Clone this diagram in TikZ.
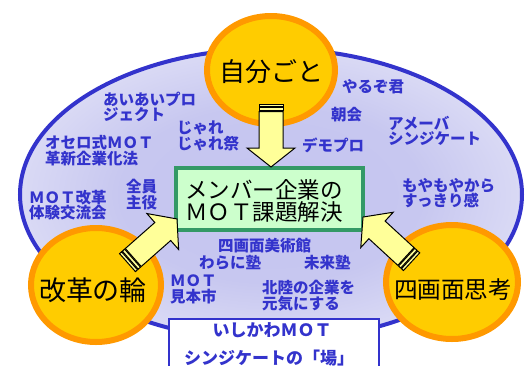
\documentclass[tikz,border=0pt]{standalone}
\usepackage{fontspec}
\newfontfamily\jp{Noto Sans CJK JP}
\usetikzlibrary{shapes.geometric}
\definecolor{lblue}{RGB}{51,51,204}
\definecolor{circfill}{RGB}{255,204,0}
\definecolor{circline}{RGB}{255,153,0}
\definecolor{boxgreen}{RGB}{51,153,102}
\definecolor{boxfill}{RGB}{204,255,204}
\definecolor{arrowfill}{RGB}{255,255,153}
\pgfdeclareradialshading{glow}{\pgfpoint{0bp}{0bp}}{rgb(0bp)=(0.77,0.77,0.94);rgb(15bp)=(0.78,0.78,0.94);rgb(45bp)=(1,1,1);rgb(50bp)=(1,1,1)}
\tikzset{
  lbl/.style={text=lblue, font=\jp\bfseries\fontsize{15.5}{15.5}\selectfont, align=left, anchor=west, inner sep=0pt},
  circ/.style={ellipse, draw=circline, fill=circfill, line width=6pt, inner sep=0pt},
  circtxt/.style={inner sep=0pt, font=\jp\fontsize{26}{26}\selectfont},
  arr/.style={draw=black, fill=arrowfill, line width=1pt, line join=miter},
  bottomtxt/.style={text=lblue, font=\jp\bfseries\fontsize{17}{17}\selectfont, inner sep=0pt}
}
\newcommand\blockarrow[3]{%
  \begin{scope}[shift={(#1)}, rotate=#2, x=1pt, y=1pt]
    \draw[arr] (0,-12) rectangle (2.7,12);
    \draw[arr] (3.7,-12) rectangle (6.7,12);
    \draw[arr] (7.7,-12) -- ({#3-19},-12) -- ({#3-19},-24) -- (#3,0) -- ({#3-19},24) -- ({#3-19},12) -- (7.7,12) -- cycle;
  \end{scope}}
\begin{document}
\begin{tikzpicture}[x=1pt,y=-1pt]
\useasboundingbox (0,0) rectangle (531,365);
% big ellipse
\path[shading=glow] (271,194.5) ellipse [x radius=251, y radius=146];
\draw[lblue, line width=4pt] (271,194.5) ellipse [x radius=251, y radius=146];
% labels
\node[lbl] (l1) at (103,107) {あいあいプロ\\ジェクト};
\node[lbl] (l2) at (177,136) {じゃれ\\じゃれ祭};
\node[lbl] (l3) at (45,150.5) {オセロ式ＭＯＴ\\革新企業化法};
\node[lbl] (l4) at (342,87) {やるぞ君};
\node[lbl] (l5) at (331,115) {朝会};
\node[lbl] (l6) at (388,131) {アメーバ\\シンジケート};
\node[lbl] (l7) at (302,145) {デモプロ};
\node[lbl] (l8) at (29,205) {ＭＯＴ改革\\体験交流会};
\node[lbl] (l9) at (126,194.5) {全員\\主役};
\node[lbl] (l10) at (402,193) {もやもやから\\すっきり感};
\node[lbl] (l11) at (218,246) {四画面美術館};
\node[lbl] (l12) at (199,263) {わらに塾};
\node[lbl] (l13) at (304,263) {未来塾};
\node[lbl] (l14) at (170,289.5) {ＭＯＴ\\見本市};
\node[lbl] (l15) at (262,295.5) {北陸の企業を\\元気にする};
% bottom box
\node[draw=lblue, fill=white, line width=2pt, minimum width=210pt, minimum height=64pt, inner sep=0pt] (place) at (274,351) {};
\node[bottomtxt] (p1) at (272,330) {いしかわＭＯＴ};
\node[bottomtxt] (p2) at (269,358) {シンジケートの「場」};
% circles
\node[circ, minimum width=128pt, minimum height=108pt] (self) at (271,70) {};
\node[circtxt] (selft) at (271,72) {自分ごと};
\node[circ, minimum width=130pt, minimum height=114pt] (ring) at (96,285) {};
\node[circtxt, font=\jp\fontsize{27}{27}\selectfont] (ringt) at (93,290) {改革の輪};
\node[circ, minimum width=132pt, minimum height=114pt] (four) at (452,282) {};
\node[circtxt, font=\jp\fontsize{23.6}{23.6}\selectfont] (fourt) at (453,290) {四画面思考};
% green box
\node[draw=boxgreen, fill=boxfill, line width=4pt, minimum width=187pt, minimum height=62pt, inner sep=0pt] (goal) at (269.5,199) {};
\node[inner sep=0pt, align=left, font=\jp\fontsize{22.5}{22}\selectfont] (goalt) at (264,201) {メンバー企業の\\ＭＯＴ課題解決};
% arrows
\coordinate (ta) at (271,104);
\coordinate (tb) at (127.5,262.6);
\coordinate (tc) at (411.6,261.7);
\blockarrow{ta}{-90}{63}
\blockarrow{tb}{41.4}{66}
\blockarrow{tc}{137.4}{66}
\end{tikzpicture}
\end{document}
